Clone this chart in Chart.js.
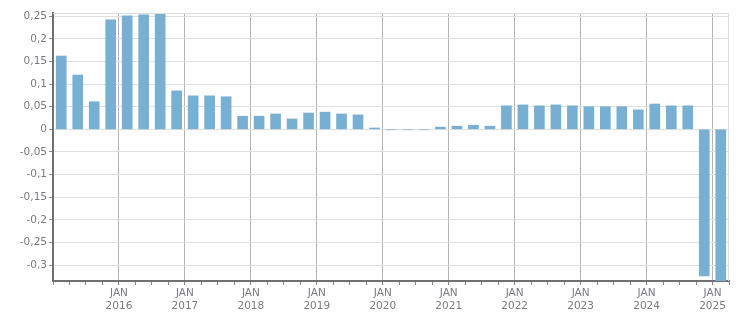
<!DOCTYPE html>
<html>
<head>
<meta charset="utf-8">
<script src="https://cdn.jsdelivr.net/npm/chart.js@4/dist/chart.umd.min.js"></script>
<style>
  html, body { margin: 0; padding: 0; background: #fff; }
  canvas { display: block; }
</style>
</head>
<body>
<canvas id="chart" width="751" height="313"></canvas>
<script>
  // quarterly values, Q1 2015 .. Q1 2025
  const quarters = [
    "2015 Q1", "2015 Q2", "2015 Q3", "2015 Q4",
    "2016 Q1", "2016 Q2", "2016 Q3", "2016 Q4",
    "2017 Q1", "2017 Q2", "2017 Q3", "2017 Q4",
    "2018 Q1", "2018 Q2", "2018 Q3", "2018 Q4",
    "2019 Q1", "2019 Q2", "2019 Q3", "2019 Q4",
    "2020 Q1", "2020 Q2", "2020 Q3", "2020 Q4",
    "2021 Q1", "2021 Q2", "2021 Q3", "2021 Q4",
    "2022 Q1", "2022 Q2", "2022 Q3", "2022 Q4",
    "2023 Q1", "2023 Q2", "2023 Q3", "2023 Q4",
    "2024 Q1", "2024 Q2", "2024 Q3", "2024 Q4",
    "2025 Q1",
  ];
  const values = [
    0.162, 0.120, 0.061, 0.242,
    0.251, 0.253, 0.255, 0.085,
    0.074, 0.074, 0.072, 0.029,
    0.029, 0.034, 0.023, 0.036,
    0.038, 0.034, 0.032, 0.003,
    -0.001, -0.001, -0.001, 0.005,
    0.007, 0.009, 0.007, 0.052,
    0.054, 0.052, 0.054, 0.052,
    0.050, 0.050, 0.050, 0.043,
    0.056, 0.052, 0.052, -0.324,
    -0.34,
  ];
  // labels at each january boundary (quarter index 4, 8, ...)
  const yearLabels = ["2016", "2017", "2018", "2019", "2020", "2021", "2022", "2023", "2024", "2025"];

  const points = values.map((v, i) => ({ x: i + 0.5, y: v }));

  const frame = {
    id: "frame",
    afterDraw(chart) {
      const { ctx, chartArea: a } = chart;
      ctx.save();
      ctx.strokeStyle = "#dcdcdc";
      ctx.lineWidth = 1;
      ctx.beginPath();
      ctx.moveTo(a.left, a.top + 0.5);
      ctx.lineTo(a.right - 0.5, a.top + 0.5);
      ctx.lineTo(a.right - 0.5, a.bottom);
      ctx.stroke();
      ctx.restore();
    },
  };

  new Chart(document.getElementById("chart"), {
    type: "bar",
    data: {
      labels: quarters,
      datasets: [{
        data: points,
        backgroundColor: "#78b0d3",
        borderWidth: 0,
        barThickness: 10,
      }],
    },
    options: {
      responsive: false,
      animation: false,
      devicePixelRatio: 1,
      layout: { padding: { top: 13, right: 22, bottom: 0, left: 0 } },
      plugins: { legend: { display: false }, tooltip: { enabled: false } },
      scales: {
        x: {
          type: "linear",
          min: 0,
          max: quarters.length,
          offset: false,
          afterFit(scale) { scale.height = 32; },
          grid: {
            offset: false,
            color: (c) => (c.tick && c.tick.value % 4 === 0 && c.tick.value > 0 ? "#b4b4b4" : "rgba(0,0,0,0)"),
            tickColor: "#888",
            tickLength: 4,
            lineWidth: 1,
          },
          border: { color: "#707070", width: 2 },
          ticks: {
            stepSize: 1,
            autoSkip: false,
            maxRotation: 0,
            padding: 2,
            color: "#7a7a82",
            font: { family: "DejaVu Sans", size: 10.5, lineHeight: 1.2 },
            callback(v) {
              if (v % 4 !== 0 || v === 0) return "";
              const y = yearLabels[v / 4 - 1];
              return y ? ["JAN", y] : "";
            },
          },
        },
        y: {
          min: -0.335,
          max: 0.257,
          afterFit(scale) { scale.width = 53; },
          grid: { color: "#e0e0e0", tickColor: "#888", tickLength: 4 },
          border: { color: "#707070", width: 2 },
          ticks: {
            stepSize: 0.05,
            includeBounds: false,
            padding: 2,
            color: "#7a7a82",
            font: { family: "DejaVu Sans", size: 10.5 },
            callback(v) {
              return String(Math.round(v * 100) / 100).replace(".", ",");
            },
          },
        },
      },
    },
    plugins: [frame],
  });
</script>
</body>
</html>
